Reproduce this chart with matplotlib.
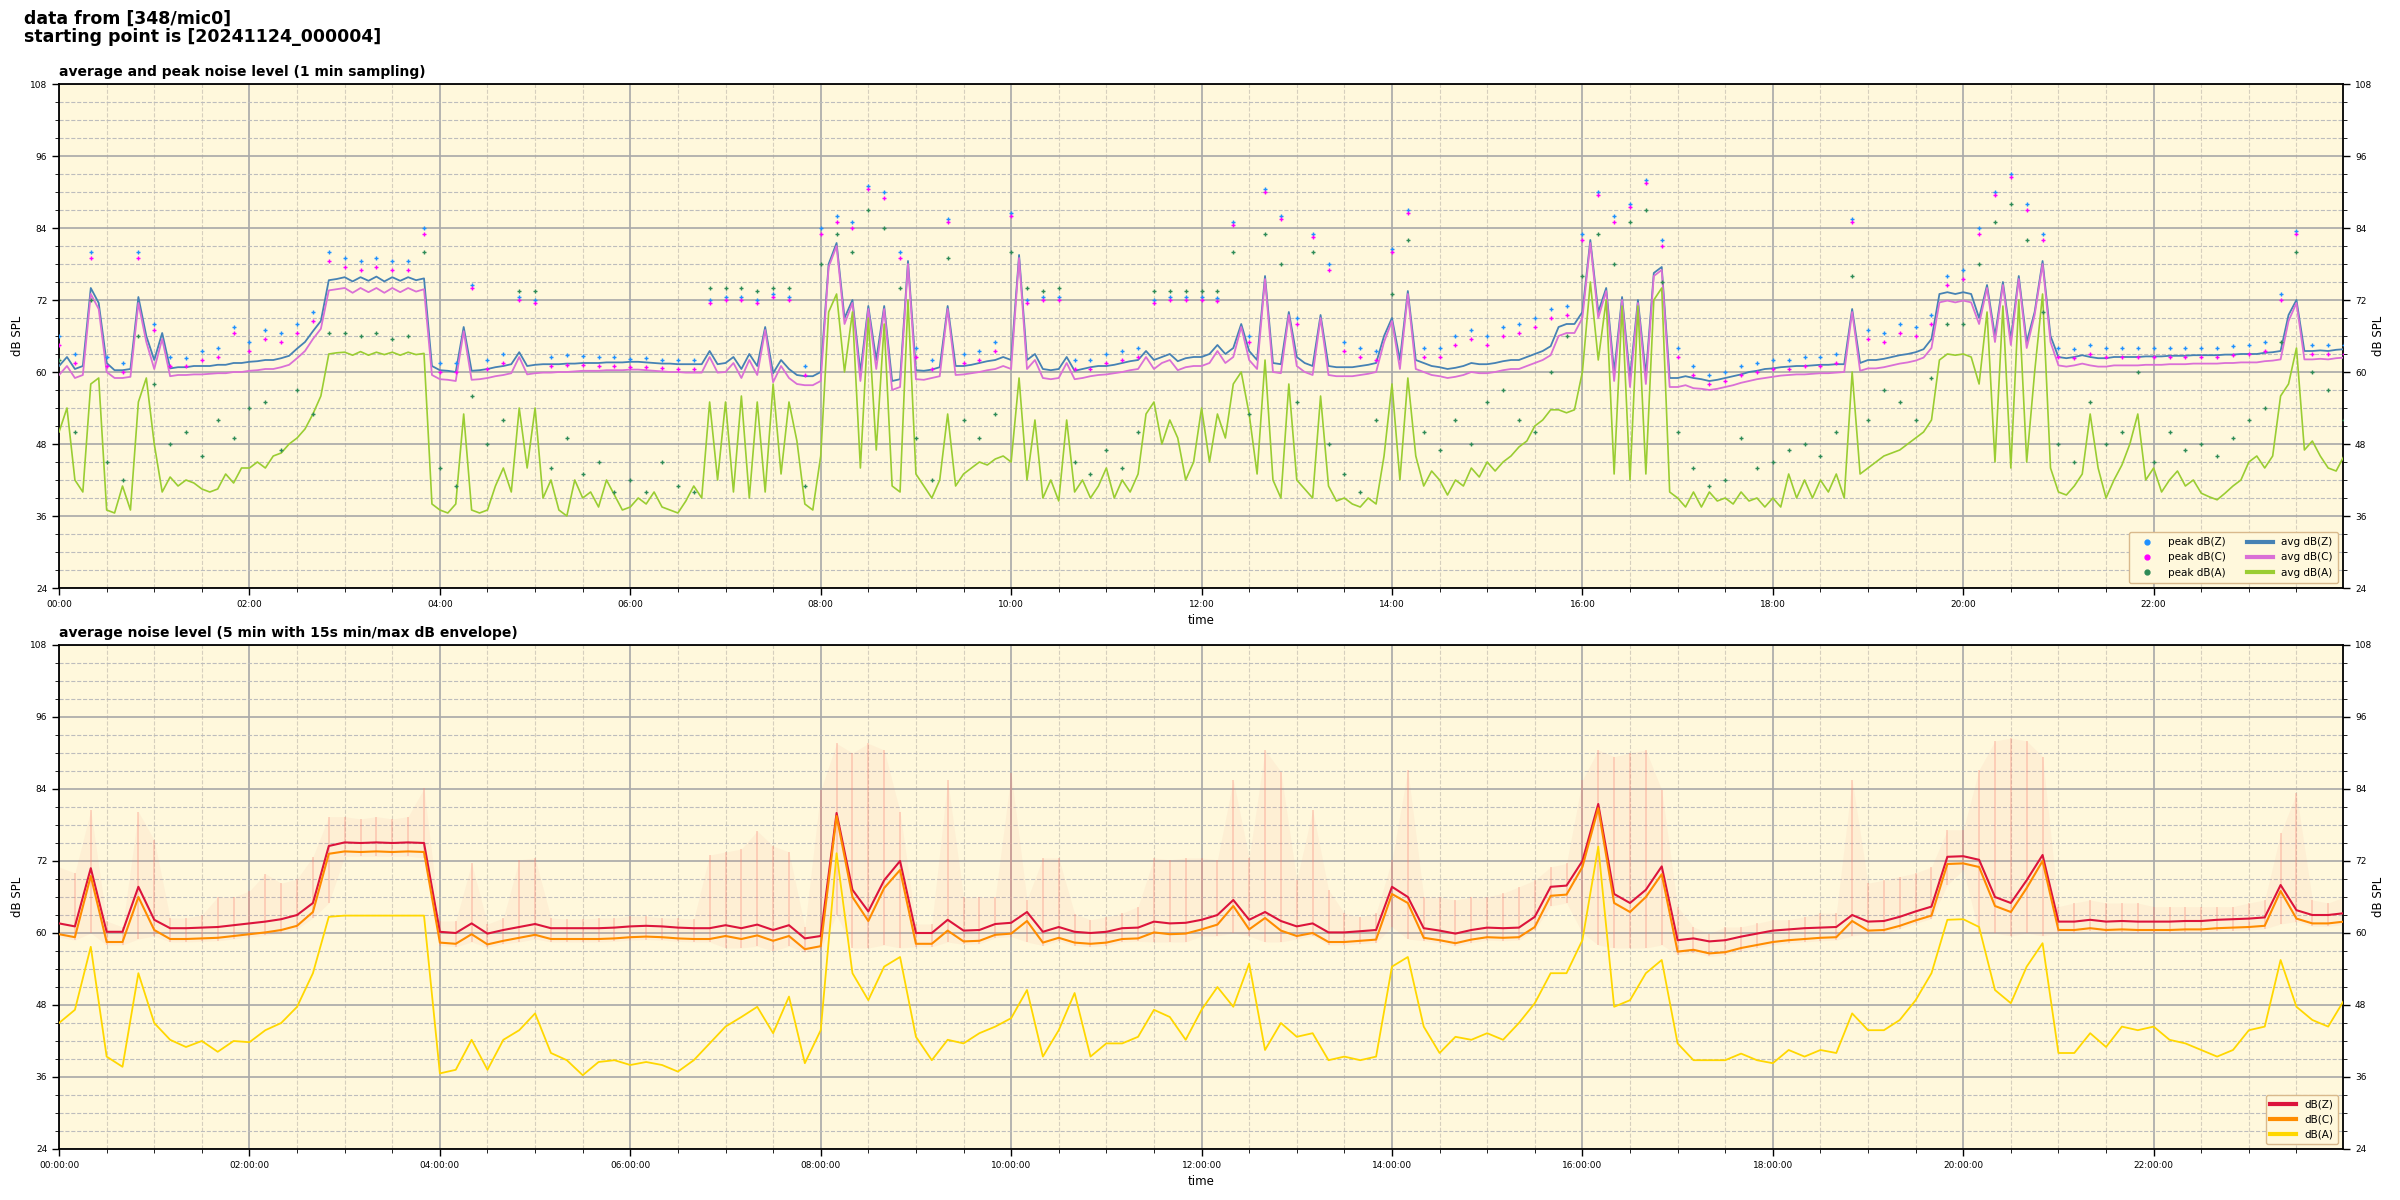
import matplotlib
matplotlib.use("Agg")
import matplotlib.pyplot as plt
import numpy as np
from matplotlib.ticker import MultipleLocator, FuncFormatter
from matplotlib.lines import Line2D

avg_z = [
    61, 62.5, 60.5, 61, 74, 71.5, 61.5, 60.3, 60.3, 60.5, 72.5, 66,
    62, 66.5, 60.6, 60.8, 60.8, 61, 61, 61, 61.2, 61.2, 61.5, 61.5,
    61.7, 61.8, 62, 62, 62.3, 62.7, 63.9, 65, 66.8, 68.5, 75.3, 75.5,
    75.8, 75.1, 75.8, 75.2, 75.9, 75.1, 75.8, 75.2, 75.8, 75.3, 75.6, 61,
    60.3, 60.2, 60, 67.5, 60.2, 60.3, 60.5, 60.8, 61, 61.3, 63.3, 61,
    61.2, 61.3, 61.3, 61.3, 61.4, 61.4, 61.5, 61.5, 61.5, 61.6, 61.6, 61.6,
    61.7, 61.7, 61.6, 61.5, 61.4, 61.4, 61.3, 61.3, 61.3, 61.3, 63.5, 61.3,
    61.5, 62.5, 60.5, 63, 61, 67.5, 59.8, 62, 60.5, 59.5, 59.3, 59.3,
    60, 78, 81.5, 69, 72, 60, 71, 62, 71, 58.5, 58.8, 78.5,
    60.3, 60.2, 60.4, 60.8, 71, 61, 61, 61.2, 61.5, 61.8, 62, 62.5,
    62, 79.5, 62, 63, 60.5, 60.3, 60.5, 62.5, 60.2, 60.5, 60.8, 61,
    61, 61.2, 61.5, 61.8, 62, 63.5, 62, 62.5, 63, 61.8, 62.3, 62.5,
    62.5, 63, 64.5, 63, 64, 68, 63.5, 62, 76, 61.5, 61.3, 70,
    62.5, 61.5, 61, 69.5, 61, 60.8, 60.8, 60.8, 61, 61.2, 61.5, 66,
    69, 62, 73.5, 62, 61.5, 61, 60.8, 60.5, 60.7, 61, 61.5, 61.3,
    61.3, 61.5, 61.8, 62, 62, 62.5, 63, 63.5, 64.3, 67.5, 68, 68,
    70, 82, 70, 74, 60, 72.5, 59, 72, 59.5, 76.5, 77.5, 59,
    59, 59.3, 59, 58.8, 58.5, 58.7, 59, 59.3, 59.6, 60, 60.2, 60.5,
    60.6, 60.8, 60.9, 61, 61, 61.1, 61.2, 61.2, 61.3, 61.3, 70.5, 61.5,
    62, 62, 62.2, 62.5, 62.8, 63, 63.3, 63.8, 65.5, 73, 73.3, 73,
    73.3, 73, 69, 74.5, 66, 75, 65.5, 76, 65, 70, 78.5, 66,
    62.5, 62.3, 62.5, 62.8, 62.5, 62.3, 62.3, 62.5, 62.5, 62.5, 62.5, 62.6,
    62.6, 62.6, 62.7, 62.7, 62.7, 62.8, 62.8, 62.8, 62.8, 62.9, 62.9, 63,
    63, 63, 63.2, 63.3, 63.5, 69.5, 72, 63.5, 63.5, 63.6, 63.5, 63.7,
    63.8]
avg_c = [
    59.5, 61, 59, 59.5, 73, 70.5, 60, 59, 59, 59.2, 71.5, 65,
    60.5, 65.5, 59.3, 59.5, 59.5, 59.6, 59.6, 59.7, 59.8, 59.8, 60, 60,
    60.2, 60.3, 60.5, 60.5, 60.8, 61.2, 62.3, 63.5, 65.5, 67.2, 73.6, 73.8,
    74, 73.2, 74, 73.3, 74, 73.2, 74, 73.3, 74, 73.4, 73.8, 59.5,
    58.8, 58.7, 58.5, 66.8, 58.7, 58.8, 59, 59.3, 59.5, 59.8, 62.5, 59.6,
    59.8, 59.9, 59.9, 60, 60, 60.1, 60.2, 60.2, 60.2, 60.3, 60.3, 60.3,
    60.4, 60.4, 60.3, 60.2, 60.1, 60, 60, 59.9, 59.9, 59.9, 62.5, 59.9,
    60, 61.5, 59, 62, 59.5, 67, 58.3, 61, 59, 58, 57.8, 57.8,
    58.5, 77.5, 81, 68, 71.5, 58.5, 70.5, 60.5, 70.5, 57, 57.5, 78,
    58.8, 58.7, 59, 59.3, 70.5, 59.5, 59.6, 59.8, 60, 60.3, 60.5, 61,
    60.5, 79, 60.5, 62, 59, 58.8, 59, 61.5, 58.8, 59, 59.3, 59.5,
    59.6, 59.8, 60, 60.3, 60.5, 62.5, 60.5, 61.5, 62, 60.3, 60.8, 61,
    61, 61.5, 63.5, 61.5, 62.5, 67.5, 62, 60.5, 75.5, 60, 59.8, 69.5,
    61, 60, 59.5, 69, 59.5, 59.3, 59.3, 59.3, 59.5, 59.7, 60, 65,
    68.5, 60.5, 73, 60.5, 60, 59.5, 59.3, 59, 59.2, 59.5, 60, 59.8,
    59.8, 60, 60.3, 60.5, 60.5, 61, 61.5, 62, 62.8, 66, 66.5, 66.5,
    69, 81.5, 69, 73.5, 58.5, 72, 57.5, 71.5, 58, 76, 77, 57.5,
    57.5, 57.8, 57.3, 57.2, 57, 57.2, 57.5, 57.8, 58.2, 58.5, 58.8, 59,
    59.2, 59.4, 59.5, 59.6, 59.6, 59.7, 59.8, 59.8, 59.9, 60, 70, 60.2,
    60.6, 60.6, 60.8, 61.1, 61.4, 61.6, 61.9, 62.4, 64, 71.6, 71.9, 71.6,
    71.9, 71.6, 68, 74, 65, 74.5, 64.5, 75.5, 64, 69.5, 78, 65,
    61.1, 60.9, 61.1, 61.4, 61.1, 60.9, 60.9, 61.1, 61.1, 61.1, 61.1, 61.2,
    61.2, 61.2, 61.3, 61.3, 61.3, 61.4, 61.4, 61.4, 61.4, 61.5, 61.5, 61.6,
    61.6, 61.6, 61.8, 61.9, 62.1, 68.5, 71.5, 62.1, 62.1, 62.2, 62.1, 62.3,
    62.4]
avg_a = [
    50, 54, 42, 40, 58, 59, 37, 36.5, 41, 37, 55, 59,
    48, 40, 42.5, 41, 42, 41.5, 40.5, 40, 40.5, 43, 41.5, 44,
    44, 45, 44, 46, 46.5, 48, 49, 50.5, 53, 56, 63, 63.2,
    63.3, 62.8, 63.4, 62.8, 63.3, 62.9, 63.3, 62.8, 63.3, 62.9, 63.1, 38,
    37, 36.5, 38, 53, 37, 36.5, 37, 41, 44, 40, 54, 44,
    54, 39, 42, 37, 36, 42, 39, 40, 37.5, 42, 39.5, 37,
    37.5, 39, 38, 40, 37.5, 37, 36.5, 38.5, 41, 39, 55, 42,
    55, 40, 56, 39, 55, 40, 58, 43, 55, 48.5, 38, 37,
    46, 70, 73, 60, 70, 44, 69, 47, 68, 41, 40, 72,
    43, 41, 39, 42, 53, 41, 43, 44, 45, 44.5, 45.5, 46,
    45, 59, 42, 52, 39, 42, 38.5, 52, 40, 42, 39, 41,
    44, 39, 42, 40, 43, 53, 55, 48, 52, 49, 42, 45,
    54, 45, 53, 49, 58, 60, 53, 43, 62, 42, 39, 58,
    42, 40.5, 39, 56, 41, 38.5, 39, 38, 37.5, 39, 38, 46,
    58, 42, 59, 46, 41, 43.5, 42, 39.5, 42, 41, 44, 42.5,
    45, 43.5, 45, 46, 47.5, 48.5, 51, 52, 53.7, 53.7, 53.2, 53.7,
    60, 75, 62, 72, 43, 71, 42, 71, 43, 72, 74, 40,
    39, 37.5, 40, 37.5, 40, 38.5, 39, 38, 40, 38.5, 39, 37.5,
    39, 37.5, 43, 39, 42, 39, 42, 40, 43, 39, 60, 43,
    44, 45, 46, 46.5, 47, 48, 49, 50, 52, 62, 63, 62.8,
    63, 62.5, 58, 70, 45, 71, 44, 72, 45, 60, 73, 44,
    40, 39.5, 41, 43, 53, 44, 39, 42, 44.5, 48, 53, 42,
    44, 40, 42, 43.5, 41, 42, 39.8, 39.2, 38.7, 39.8, 41, 42,
    45, 46, 44, 46, 56, 58, 64, 47, 48.5, 46, 44, 43.5,
    46]

# peak values, 10 min steps
peak_z = [
    66, 63, 80, 62.5, 61.5, 80,
    68, 62.5, 62.3, 63.5, 64, 67.5,
    65, 67, 66.5, 68, 70, 80,
    79, 78.5, 79, 78.5, 78.5, 84,
    61.5, 61.5, 74.5, 62, 63, 72.5,
    72, 62.5, 62.8, 62.7, 62.5, 62.5,
    62.2, 62.3, 62, 62, 62, 72,
    72.5, 72.5, 72, 73, 72.5, 61,
    84, 86, 85, 91, 90, 80,
    64, 62, 85.5, 63, 63.5, 65,
    86.5, 72, 72.5, 72.5, 62, 62,
    63, 63.5, 64, 72, 72.5, 72.5,
    72.5, 72.3, 85, 66, 90.5, 86,
    69, 83, 78, 65, 64, 63.5,
    80.5, 87, 64, 64, 66, 67,
    66, 67.5, 68, 69, 70.5, 71,
    83, 90, 86, 88, 92, 82,
    64, 61, 59.5, 60, 61, 61.5,
    62, 62, 62.5, 62.5, 63, 85.5,
    67, 66.5, 68, 67.5, 69.5, 76,
    77, 84, 90, 93, 88, 83,
    64, 63.8, 64.5, 64, 64, 64,
    64, 64, 64, 64, 64, 64.3,
    64.5, 65, 73, 83.5, 64.5, 64.5,
    64.5]
peak_c = [
    64.5, 61.5, 79, 61, 60, 79,
    67, 61, 61, 62, 62.5, 66.5,
    63.5, 65.5, 65, 66.5, 68.5, 78.5,
    77.5, 77, 77.5, 77, 77, 83,
    60, 60, 74, 60.5, 61.5, 72,
    71.5, 61, 61.2, 61.2, 61, 61,
    60.8, 60.8, 60.6, 60.5, 60.5, 71.5,
    72, 72, 71.5, 72.5, 72, 59.5,
    83, 85, 84, 90.5, 89, 79,
    62.5, 60.5, 85, 61.5, 62, 63.5,
    86, 71.5, 72, 72, 60.5, 60.5,
    61.5, 62, 62.5, 71.5, 72, 72,
    72, 71.8, 84.5, 65, 90, 85.5,
    68, 82.5, 77, 63.5, 62.5, 62,
    80, 86.5, 62.5, 62.5, 64.5, 65.5,
    64.5, 66, 66.5, 67.5, 69, 69.5,
    82, 89.5, 85, 87.5, 91.5, 81,
    62.5, 59.5, 58, 58.5, 59.5, 60,
    60.5, 60.5, 61, 61, 61.5, 85,
    65.5, 65, 66.5, 66, 68, 74.5,
    75.5, 83, 89.5, 92.5, 87, 82,
    62.5, 62.3, 63, 62.5, 62.5, 62.5,
    62.5, 62.5, 62.5, 62.5, 62.5, 62.8,
    63, 63.5, 72, 83, 63, 63,
    63]
peak_a = [
    62, 50, 72, 45, 42, 66,
    58, 48, 50, 46, 52, 49,
    54, 55, 47, 57, 53, 66.5,
    66.5, 66, 66.5, 65.5, 66, 80,
    44, 41, 56, 48, 52, 73.5,
    73.5, 44, 49, 43, 45, 40,
    42, 40, 45, 41, 40, 74,
    74, 74, 73.5, 74, 74, 41,
    78, 83, 80, 87, 84, 74,
    49, 42, 79, 52, 49, 53,
    80, 74, 73.5, 74, 45, 43,
    47, 44, 50, 73.5, 73.5, 73.5,
    73.5, 73.5, 80, 53, 83, 78,
    55, 80, 48, 43, 40, 52,
    73, 82, 50, 47, 52, 48,
    55, 57, 52, 50, 60, 66,
    76, 83, 78, 85, 87, 75,
    50, 44, 41, 42, 49, 44,
    45, 47, 48, 46, 50, 76,
    52, 57, 55, 52, 59, 68,
    68, 78, 85, 88, 82, 70,
    48, 45, 55, 48, 50, 60,
    45, 50, 47, 48, 46, 49,
    52, 54, 65, 80, 60, 57,
    52]

db_z = [
    61.6, 61.1, 70.8, 60.2, 60.2, 67.7,
    62.2, 60.8, 60.8, 60.9, 61, 61.3,
    61.6, 61.9, 62.3, 63, 65, 74.5,
    75.1, 75, 75.1, 75, 75.1, 75,
    60.2, 60, 61.6, 59.9, 60.5, 61,
    61.5, 60.8, 60.8, 60.8, 60.8, 60.9,
    61.1, 61.2, 61.1, 60.9, 60.8, 60.8,
    61.3, 60.8, 61.4, 60.5, 61.3, 59.1,
    59.5, 80, 67.2, 63.6, 68.8, 72,
    60, 60, 62.2, 60.4, 60.5, 61.5,
    61.7, 63.5, 60.2, 61, 60.2, 60,
    60.2, 60.8, 60.9, 61.9, 61.6, 61.7,
    62.2, 63, 65.5, 62.2, 63.5, 62,
    61.1, 61.6, 60.1, 60.1, 60.3, 60.5,
    67.7, 66, 60.8, 60.4, 59.9, 60.5,
    60.9, 60.8, 60.9, 62.7, 67.7, 67.9,
    72, 81.5, 66.5, 65, 67.2, 71.1,
    58.8, 59.1, 58.6, 58.8, 59.4, 59.9,
    60.4, 60.6, 60.8, 60.9, 61, 63,
    61.9, 62, 62.7, 63.6, 64.4, 72.7,
    72.8, 72.2, 66, 65, 68.8, 73,
    61.9, 61.9, 62.2, 61.9, 62, 61.9,
    61.9, 61.9, 62, 62, 62.2, 62.3,
    62.4, 62.6, 68, 63.8, 63, 63,
    63.3]
db_c = [
    59.8, 59.3, 69.5, 58.5, 58.5, 66,
    60.5, 59, 59, 59.1, 59.2, 59.5,
    59.8, 60.1, 60.5, 61.2, 63.5, 73.2,
    73.6, 73.5, 73.6, 73.5, 73.6, 73.5,
    58.4, 58.2, 59.8, 58.1, 58.7, 59.2,
    59.7, 59, 59, 59, 59, 59.1,
    59.3, 59.4, 59.3, 59.1, 59, 59,
    59.5, 59, 59.6, 58.7, 59.5, 57.3,
    57.8, 79.5, 66, 62, 67.5, 70.5,
    58.2, 58.2, 60.4, 58.6, 58.7, 59.7,
    59.9, 62, 58.4, 59.2, 58.4, 58.2,
    58.4, 59, 59.1, 60.1, 59.8, 59.9,
    60.6, 61.4, 64.5, 60.6, 62.5, 60.4,
    59.5, 60, 58.5, 58.5, 58.7, 58.9,
    66.5, 65, 59.2, 58.8, 58.3, 58.9,
    59.3, 59.2, 59.3, 61, 66.2, 66.4,
    71, 80.8, 65, 63.5, 66, 69.8,
    56.9, 57.2, 56.6, 56.8, 57.5, 58,
    58.5, 58.8, 59, 59.2, 59.3, 62,
    60.4, 60.5, 61.2, 62.1, 62.9, 71.5,
    71.6, 71, 64.5, 63.5, 67.5, 72,
    60.5, 60.5, 60.8, 60.5, 60.6, 60.5,
    60.5, 60.5, 60.6, 60.6, 60.8, 60.9,
    61, 61.2, 67, 62.4, 61.6, 61.6,
    61.9]
db_a = [
    45, 47.2, 57.7, 39.4, 37.7, 53.3,
    45, 42.2, 41, 42, 40.2, 42,
    41.8, 43.8, 45, 47.7, 53.3, 62.7,
    62.9, 62.9, 62.9, 62.9, 62.9, 62.9,
    36.6, 37.2, 42.2, 37.2, 42.2, 43.8,
    46.6, 40, 38.8, 36.3, 38.5, 38.8,
    38, 38.5, 38, 36.9, 38.8, 41.6,
    44.4, 46, 47.7, 43.3, 49.4, 38.3,
    43.8, 73.3, 53.3, 48.8, 54.4, 56,
    42.7, 38.8, 42.2, 41.6, 43.3, 44.4,
    45.8, 50.5, 39.4, 43.8, 50, 39.4,
    41.6, 41.6, 42.7, 47.2, 46, 42.2,
    47.2, 51, 47.7, 54.9, 40.5, 45,
    42.7, 43.3, 38.8, 39.4, 38.8, 39.4,
    54.4, 56, 44.4, 40, 42.7, 42.2,
    43.3, 42.2, 45, 48.3, 53.3, 53.3,
    58.8, 74.4, 47.7, 48.8, 53.3, 55.5,
    41.6, 38.8, 38.8, 38.8, 39.9, 38.8,
    38.3, 40.5, 39.4, 40.5, 40, 46.6,
    43.8, 43.8, 45.5, 48.8, 53.3, 62.2,
    62.3, 61, 50.5, 48.3, 54.4, 58.3,
    40, 40, 43.3, 41, 44.4, 43.8,
    44.4, 42.2, 41.6, 40.5, 39.4, 40.5,
    43.8, 44.4, 55.5, 47.7, 45.5, 44.4,
    48.8]
# 15 s min/max envelope
env_hi = [
    71, 70, 80.5, 62, 61, 80.2,
    75.5, 62.5, 62.5, 63, 66, 66,
    67, 69.9, 68.3, 69, 72.7, 79.4,
    79.4, 79, 79.4, 79, 79.4, 84.1,
    62, 62, 71.6, 61.5, 62.5, 72.2,
    72.5, 62.5, 62.3, 62.3, 62.5, 62.5,
    62.8, 62.8, 62.5, 62.5, 62.3, 73,
    73.5, 74, 77, 74.5, 73.5, 61,
    83.8, 91.6, 90, 91.6, 90.5, 80.2,
    61.5, 61.5, 85.5, 66, 66, 66,
    86.6, 65.5, 72.5, 72.5, 63.2, 62.2,
    62.7, 63.3, 64.4, 72.5, 72.2, 72.5,
    72.5, 72.2, 85.5, 72.5, 90.5, 86.9,
    68.8, 80.5, 67.2, 63.3, 62.7, 63.3,
    72.2, 87.2, 66, 66, 65.5, 66,
    66, 66.6, 67.7, 68.8, 71, 71.6,
    85.5, 90.5, 89.4, 90, 90.5, 83.8,
    64.4, 61, 59.9, 61, 61, 61.6,
    62.2, 62.2, 62.7, 63.3, 63.3, 85.5,
    68.3, 68.8, 69.4, 70, 71, 77.2,
    77.2, 87.2, 92, 92.5, 92, 89.4,
    64.4, 65, 65.5, 65, 65, 65,
    64.4, 64.4, 64.4, 64.4, 64.4, 64.4,
    65, 65.5, 76.6, 83.3, 65.5, 65,
    66]
env_lo = [
    59.3, 58.8, 60, 58, 58, 59,
    59.5, 58.5, 58.5, 58.6, 58.7, 59,
    59.3, 59.6, 60, 60.7, 62.5, 65,
    72.8, 72.8, 72.8, 72.8, 72.8, 72.5,
    57.9, 57.7, 58.5, 57.6, 58.2, 58.5,
    59, 58.5, 58.5, 58.5, 58.5, 58.6,
    58.8, 58.9, 58.8, 58.6, 58.5, 58.5,
    57.5, 57.5, 57.8, 57, 57.8, 56.8,
    57.3, 63, 57.5, 57.5, 58, 57.5,
    57.7, 57.7, 58.5, 58.1, 58.2, 59.2,
    59.4, 58.5, 57.9, 58.7, 57.9, 57.7,
    57.9, 58.5, 58.6, 58.5, 58.5, 58.5,
    59.5, 59.5, 60, 59.5, 58.5, 58.5,
    59, 59.5, 58, 58, 58.2, 58.4,
    61, 59, 58.7, 58.3, 57.8, 58.4,
    58.8, 58.7, 58.8, 60.5, 64.5, 65,
    60, 58, 57.5, 57.5, 57.5, 58,
    56.4, 56.7, 56.1, 56.3, 57, 57.5,
    58, 58.3, 58.5, 58.7, 58.8, 59.5,
    59.9, 60, 60.7, 61.6, 62.4, 68,
    70.5, 60, 60, 59.5, 60, 59.5,
    60, 60, 60.3, 60, 60.1, 60,
    60, 60, 60.1, 60.1, 60.3, 60.4,
    60.5, 60.7, 61.5, 61.9, 61.1, 61.1,
    61.4]

hours = [0, 2, 4, 6, 8, 10, 12, 14, 16, 18, 20, 22]

t5 = np.arange(len(avg_z)) * 5 / 60.0
t10 = np.arange(len(db_z)) * 10 / 60.0

bg = "#FFF8DC"
fig = plt.figure(figsize=(24, 12), dpi=100)
fig.text(0.01, 0.992, "data from [348/mic0]\nstarting point is [20241124_000004]",
         ha="left", va="top", fontsize=12.5, fontweight="bold", linespacing=1.05)

ax1 = fig.add_axes([0.0246, 0.51, 0.9517, 0.42])
ax2 = fig.add_axes([0.0246, 0.0425, 0.9517, 0.42])


def style(ax, fmt):
    ax.set_facecolor(bg)
    ax.set_xlim(0, 23.99)
    ax.set_ylim(24, 108)
    ax.set_xticks(hours)
    ax.xaxis.set_minor_locator(MultipleLocator(0.5))
    ax.xaxis.set_major_formatter(FuncFormatter(lambda v, p: fmt % int(round(v))))
    ax.yaxis.set_major_locator(MultipleLocator(12))
    ax.yaxis.set_minor_locator(MultipleLocator(3))
    ax.grid(which="major", axis="both", color="#a8a8a8", lw=1.2, zorder=0)
    ax.grid(which="minor", axis="y", color="#bdbdbd", ls="--", lw=0.8, zorder=0)
    ax.grid(which="minor", axis="x", color="#d6cfbd", ls="--", lw=0.8, zorder=0)
    ax.tick_params(labelsize=6.5, width=1, length=5)
    ax.tick_params(which="minor", length=3)
    ax.tick_params(axis="y", which="both", right=True, labelright=True)
    for s in ax.spines.values():
        s.set_linewidth(1.3)
    ax.set_xlabel("time", fontsize=8.5)
    ax.set_ylabel("dB SPL", fontsize=8.5)
    ax.text(1.0155, 0.5, "dB SPL", transform=ax.transAxes, rotation=90,
            ha="center", va="center", fontsize=8.5)


style(ax1, "%02d:00")
style(ax2, "%02d:00:00")

# top panel
ax1.set_title("average and peak noise level (1 min sampling)", loc="left",
              fontsize=10, fontweight="bold")
ax1.plot(t5, avg_z, color="steelblue", lw=1.3, zorder=3)
ax1.plot(t5, avg_c, color="orchid", lw=1.3, zorder=3)
ax1.plot(t5, avg_a, color="yellowgreen", lw=1.2, zorder=3)
ax1.plot(t10, peak_z, ls="none", marker="+", ms=3.5, mew=1, color="dodgerblue", zorder=4)
ax1.plot(t10, peak_c, ls="none", marker="+", ms=3.5, mew=1, color="magenta", zorder=4)
ax1.plot(t10, peak_a, ls="none", marker="+", ms=3.5, mew=1, color="seagreen", zorder=4)

h1 = [Line2D([], [], ls="none", marker="o", ms=3.5, color="dodgerblue"),
      Line2D([], [], ls="none", marker="o", ms=3.5, color="magenta"),
      Line2D([], [], ls="none", marker="o", ms=3.5, color="seagreen"),
      Line2D([], [], color="steelblue", lw=3),
      Line2D([], [], color="orchid", lw=3),
      Line2D([], [], color="yellowgreen", lw=3)]
l1 = ["peak dB(Z)", "peak dB(C)", "peak dB(A)", "avg dB(Z)", "avg dB(C)", "avg dB(A)"]
leg = ax1.legend(h1, l1, loc="lower right", ncol=2, fontsize=7.5, facecolor=bg,
                 edgecolor="#d9b98c", framealpha=1, handlelength=2.5, borderpad=0.5)

# bottom panel
ax2.set_title("average noise level (5 min with 15s min/max dB envelope)", loc="left",
              fontsize=10, fontweight="bold")
ax2.fill_between(t10, env_lo, env_hi, color="salmon", alpha=0.07, lw=0, zorder=2)
ax2.vlines(t10, env_lo, env_hi, color="salmon", alpha=0.35, lw=1.2, zorder=2)
ax2.plot(t10, db_z, color="crimson", lw=1.5, zorder=3, label="dB(Z)")
ax2.plot(t10, db_c, color="darkorange", lw=1.5, zorder=3, label="dB(C)")
ax2.plot(t10, db_a, color="gold", lw=1.3, zorder=3, label="dB(A)")
leg2 = ax2.legend(loc="lower right", fontsize=7.5, facecolor=bg, edgecolor="#d9b98c",
                  framealpha=1, handlelength=2.5)
for ln in leg2.get_lines():
    ln.set_linewidth(3)

fig.savefig("out.png", dpi=100)
